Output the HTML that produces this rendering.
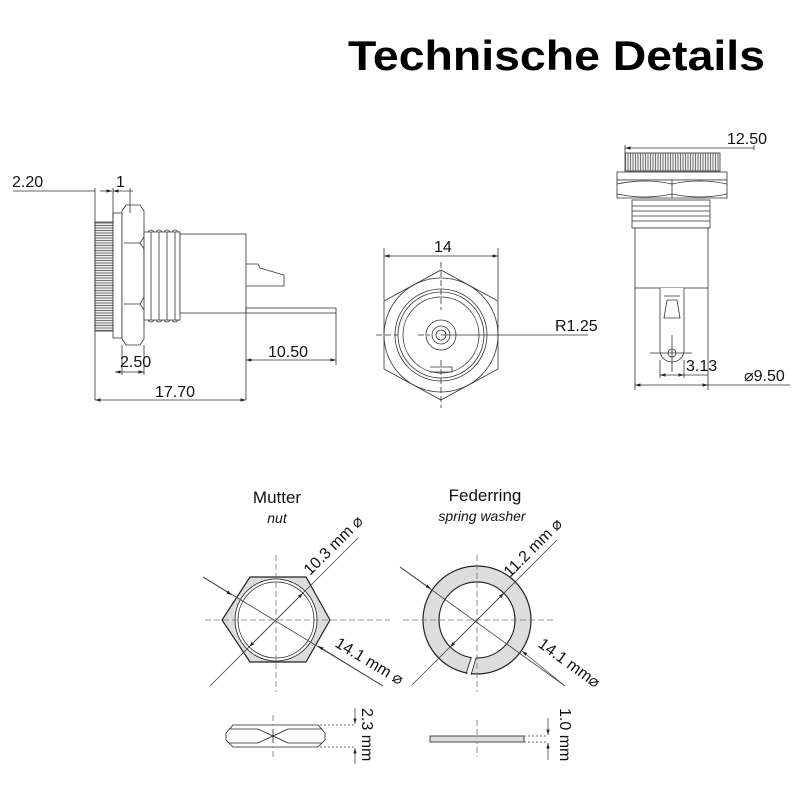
<!DOCTYPE html>
<html><head><meta charset="utf-8"><style>
html,body{margin:0;padding:0;background:#fff;}
svg{display:block;font-family:"Liberation Sans",Arial,sans-serif;}
</style></head><body>
<svg width="800" height="800" viewBox="0 0 800 800" xmlns="http://www.w3.org/2000/svg">
<defs>
<marker id="a" viewBox="0 0 10 10" refX="10" refY="5" markerWidth="7" markerHeight="7" orient="auto-start-reverse"><path d="M0,2 L10,5 L0,8 z" fill="#222"/></marker>
<pattern id="knurl" width="2.5" height="10" patternUnits="userSpaceOnUse"><rect width="2.5" height="10" fill="#eee"/><line x1="0.5" y1="0" x2="0.5" y2="10" stroke="#555" stroke-width="0.8"/></pattern>
<pattern id="knurlh" width="10" height="2.5" patternUnits="userSpaceOnUse"><rect width="10" height="2.5" fill="#eee"/><line x1="0" y1="0.5" x2="10" y2="0.5" stroke="#555" stroke-width="0.8"/></pattern>
</defs>
<rect width="800" height="800" fill="#fff"/>
<text x="765" y="70" text-anchor="end" font-size="42" font-weight="bold" textLength="417" lengthAdjust="spacingAndGlyphs">Technische Details</text>

<g stroke="#333" stroke-width="0.8" fill="none">
<!-- LEFT VIEW -->
<rect x="95" y="222" width="18" height="109" fill="url(#knurlh)"/>
<rect x="113" y="213" width="9" height="125" fill="#fff"/>
<path d="M122,211 L126,205 L140,205 L144,211 L144,237 L140,243 L144,249 L144,297 L140,304 L144,310 L144,339 L140,345 L126,345 L122,339 Z" fill="#fff"/>
<path d="M124,243 L140,243 M124,304 L140,304"/>
<path d="M144,232 L180,232 L180,320 L144,320 Z" fill="#fff"/>
<path d="M148,232 Q151,228 154,232 M156,232 Q159,228 162,232 M164,232 Q167,228 170,232 M172,232 Q175,228 178,232"/>
<path d="M148,320 Q151,324 154,320 M156,320 Q159,324 162,320 M164,320 Q167,324 170,320 M172,320 Q175,324 178,320"/>
<path d="M151,232 V320 M159,232 V320 M167,232 V320 M175,232 V320"/>
<rect x="180" y="234" width="66" height="79" fill="#fff"/>
<path d="M246,264 L258,264 L260,268 L284,275 L284,286 L246,286"/>
<rect x="246" y="308" width="90" height="5"/>
<path d="M95,188 V400 M113,188 V222 M130,188 V213 M122,345 V375 M144,345 V375 M246,313 V400 M336,313 V365"/>
<line x1="13" y1="191" x2="95" y2="191"/>
<line x1="100" y1="191" x2="112" y2="191" marker-end="url(#a)"/>
<line x1="113" y1="191" x2="133" y2="191" marker-start="url(#a)"/>
<line x1="115" y1="372" x2="144" y2="372" marker-start="url(#a)" marker-end="url(#a)"/>
<line x1="246" y1="360" x2="336" y2="360" marker-start="url(#a)" marker-end="url(#a)"/>
<line x1="95" y1="400" x2="246" y2="400" marker-start="url(#a)" marker-end="url(#a)"/>

<!-- MIDDLE VIEW -->
<path d="M384,248 V300 M498,248 V300"/>
<line x1="384" y1="256" x2="498" y2="256" marker-start="url(#a)" marker-end="url(#a)"/>
<path d="M441,270 L498,301 L498,369 L441,400 L384,369 L384,301 Z" fill="#fff"/>
<circle cx="441" cy="335" r="57"/>
<circle cx="441" cy="335" r="46"/>
<circle cx="441" cy="335" r="43"/>
<circle cx="441" cy="335" r="38"/>
<circle cx="441" cy="335" r="15"/>
<circle cx="441" cy="335" r="9"/>
<circle cx="441" cy="335" r="5"/>
<path d="M430,367 L452,367 L452,372 L430,372"/>
<path d="M376,335 H398 M418,335 H430" stroke-dasharray="6,3"/>
<path d="M441,262 V310 M441,360 V408" stroke-dasharray="6,3"/>
<line x1="441" y1="335" x2="588" y2="335"/>

<!-- RIGHT VIEW -->
<path d="M625,145 V153 M754,145 V150"/>
<line x1="625" y1="148" x2="720" y2="148" marker-start="url(#a)"/>
<line x1="720" y1="148" x2="754" y2="148"/>
<rect x="625" y="153" width="95" height="18" fill="url(#knurl)"/>
<rect x="617" y="172" width="110" height="8" fill="#fff"/>
<path d="M617,180 L727,180 L727,198 L617,198 Z" fill="#fff"/>
<path d="M617,184 Q645,178 672,184 Q700,178 727,184 M617,194 Q645,200 672,194 Q700,200 727,194 M672,180 V198"/>
<rect x="632" y="200" width="78" height="28" fill="#fff"/>
<path d="M632,206 H710 M632,211 H710 M632,216 H710 M632,221 H710"/>
<rect x="635" y="228" width="73" height="60" fill="#fff"/>
<path d="M660,288 V350 A12,12 0 0 0 684,350 V288" fill="#fff"/>
<path d="M664,296 H680 M667,300 H677 L680,318 H664 L667,300"/>
<circle cx="672" cy="353" r="4"/>
<path d="M650,353 H692 M672,335 V372"/>
<path d="M635,288 V390 M708,288 V390 M660,360 V378 M684,360 V378"/>
<line x1="660" y1="375" x2="684" y2="375" marker-start="url(#a)" marker-end="url(#a)"/>
<line x1="684" y1="375" x2="708" y2="375"/>
<line x1="635" y1="385" x2="708" y2="385" marker-start="url(#a)" marker-end="url(#a)"/>
<line x1="708" y1="385" x2="790" y2="385"/>
</g>

<g font-size="16" fill="#111">
<text x="12" y="187">2.20</text>
<text x="116" y="187">1</text>
<text x="120" y="367">2.50</text>
<text x="268" y="357">10.50</text>
<text x="155" y="397">17.70</text>
<text x="434" y="252">14</text>
<text x="555" y="331">R1.25</text>
<text x="727" y="144">12.50</text>
<text x="686" y="371">3.13</text>
<text x="744" y="381">⌀9.50</text>
</g>

<!-- BOTTOM -->
<g font-size="17" fill="#111" text-anchor="middle">
<text x="277" y="503">Mutter</text>
<text x="277" y="523" font-size="14" font-style="italic">nut</text>
<text x="485" y="501">Federring</text>
<text x="482" y="521" font-size="14" font-style="italic">spring washer</text>
</g>
<g stroke="#444" stroke-width="0.8" fill="none">
<path d="M250,577 L306,577 L330,620 L306,662 L250,662 L222,620 Z" fill="#ddd" stroke="#222" stroke-width="1.2"/>
<circle cx="276" cy="620" r="41" fill="#fff" stroke="#222"/>
<circle cx="276" cy="620" r="38" stroke="#222"/>
<circle cx="477" cy="620" r="46" stroke="#ddd" stroke-width="16"/>
<circle cx="477" cy="620" r="54" stroke="#222" stroke-width="1.2"/>
<circle cx="477" cy="620" r="38" stroke="#222" stroke-width="1.2"/>
<path d="M469,675 L474,657" stroke="#fff" stroke-width="4"/>
<path d="M466,674 L471,658 M471,675 L476,658" stroke="#222"/>
<path d="M205,620 H390 M276,555 V692 M403,620 H555 M477,555 V692 M273,715 V757 M477,720 V757" stroke-dasharray="6,3" stroke="#777"/>
<line x1="203" y1="577" x2="383" y2="686"/>
<line x1="210" y1="686" x2="358" y2="538"/>
<line x1="400" y1="567" x2="565" y2="686"/>
<line x1="412" y1="685" x2="557" y2="540"/>
<line x1="203" y1="577" x2="232" y2="595" marker-end="url(#a)"/>
<line x1="383" y1="686" x2="318" y2="646" marker-end="url(#a)"/>
<line x1="276" y1="620" x2="303" y2="593" marker-end="url(#a)"/>
<line x1="276" y1="620" x2="249" y2="647" marker-end="url(#a)"/>
<line x1="400" y1="567" x2="431" y2="589" marker-end="url(#a)"/>
<line x1="565" y1="686" x2="522" y2="651" marker-end="url(#a)"/>
<line x1="477" y1="620" x2="504" y2="593" marker-end="url(#a)"/>
<line x1="477" y1="620" x2="450" y2="647" marker-end="url(#a)"/>
<path d="M233,725 L318,725 L325,733 L325,740 L318,747 L233,747 L226,740 L226,733 Z" fill="#fff" stroke="#222"/>
<path d="M229,729 L258,729 L273,736 L288,729 L322,729 M229,743 L258,743 L273,736 L288,743 L322,743 M273,729 V743" stroke="#222"/>
<rect x="430" y="736" width="94" height="6" fill="#ddd" stroke="#222"/>
<path d="M320,725 H356 M320,747 H356 M524,736 H548 M524,742 H548" stroke-dasharray="2,2"/>
<line x1="355" y1="708" x2="355" y2="724" marker-end="url(#a)"/>
<line x1="355" y1="764" x2="355" y2="748" marker-end="url(#a)"/>
<line x1="548" y1="718" x2="548" y2="735" marker-end="url(#a)"/>
<line x1="548" y1="760" x2="548" y2="743" marker-end="url(#a)"/>
</g>
<g font-size="16" fill="#111">
<text transform="translate(310,576) rotate(-45)">10.3 mm ⌀</text>
<text transform="translate(334,646) rotate(31)">14.1 mm ⌀</text>
<text transform="translate(510,578) rotate(-45)">11.2 mm ⌀</text>
<text transform="translate(537,646) rotate(36)">14.1 mm⌀</text>
<text transform="translate(362,708) rotate(90)">2.3 mm</text>
<text transform="translate(560,708) rotate(90)">1.0 mm</text>
</g>
</svg>
</body></html>
